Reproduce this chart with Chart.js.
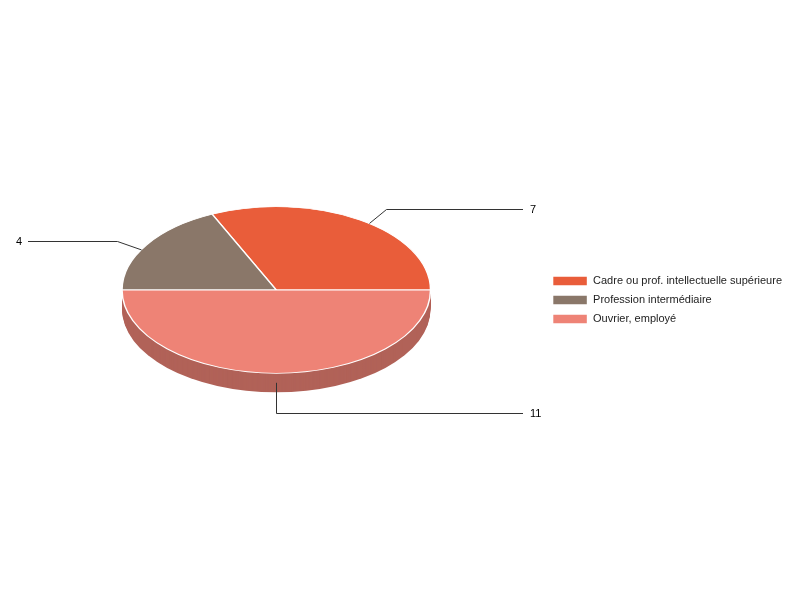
<!DOCTYPE html>
<html>
<head>
<meta charset="utf-8">
<script src="https://cdn.jsdelivr.net/npm/chart.js@4"></script>
<style>
  html, body { margin: 0; padding: 0; background: #fff; }
  #wrap { width: 800px; height: 600px; }
</style>
</head>
<body>
<div id="wrap"><canvas id="myChart" width="800" height="600"></canvas></div>
<script>
// data
var categories = ['Cadre ou prof. intellectuelle supérieure', 'Profession intermédiaire', 'Ouvrier, employé'];
var counts = [7, 4, 11];

var sliceColors = ['#e95d3a', '#8a7769', '#ee8376'];

// look of the fake 3d pie
var TILT = 0.54;     // ellipse height / width
var DEPTH = 19;      // thickness of the side wall
var LIFT = 10;       // pie sits a bit higher than the legend centre
var SPREAD = 1.17;   // label directions lean away from the vertical a little
var LINE_RIGHT = 523;
var LINE_LEFT = 28;

function darken(hex, f) {
  var n = parseInt(hex.slice(1), 16);
  var r = Math.round(((n >> 16) & 255) * f);
  var g = Math.round(((n >> 8) & 255) * f);
  var b = Math.round((n & 255) * f);
  return 'rgb(' + r + ',' + g + ',' + b + ')';
}

function tilt(ctx, cx, cy, dy) {
  ctx.translate(cx, cy - LIFT + dy);
  ctx.scale(1, -TILT);
  ctx.translate(-cx, -cy);
}

var pie3d = {
  id: 'pie3d',
  beforeDatasetsDraw: function(chart) {
    var ctx = chart.ctx;
    var all = chart.getDatasetMeta(0).data;
    var arcs = all.slice();
    // back slices first, then those that reach the front
    arcs.sort(function(a, b) {
      return (a.endAngle > Math.PI ? 1 : 0) - (b.endAngle > Math.PI ? 1 : 0);
    });
    arcs.forEach(function(arc) {
      var i = all.indexOf(arc);
      var side = new Chart.ArcElement({
        x: arc.x, y: arc.y,
        startAngle: arc.startAngle, endAngle: arc.endAngle,
        innerRadius: arc.innerRadius, outerRadius: arc.outerRadius,
        circumference: arc.circumference,
        options: Object.assign({}, arc.options, { backgroundColor: darken(sliceColors[i], 0.745), borderWidth: 0 })
      });
      for (var d = DEPTH; d >= 1; d--) {
        ctx.save();
        tilt(ctx, arc.x, arc.y, d);
        side.draw(ctx);
        ctx.restore();
      }
    });
    ctx.save();
    tilt(ctx, all[0].x, all[0].y, 0);
  },
  afterDatasetsDraw: function(chart) {
    var ctx = chart.ctx;
    ctx.restore();

    // leader lines and values
    var meta = chart.getDatasetMeta(0);
    ctx.save();
    ctx.strokeStyle = '#333';
    ctx.lineWidth = 1;
    ctx.fillStyle = '#000';
    ctx.font = '11px "Liberation Sans", Arial, sans-serif';
    ctx.textBaseline = 'middle';
    meta.data.forEach(function(arc, i) {
      var mid = (arc.startAngle + arc.endAngle) / 2;
      var m = Math.atan2(Math.sin(mid), Math.cos(mid) * SPREAD);
      var rx = arc.outerRadius, ry = arc.outerRadius * TILT;
      var cx = arc.x, cy = arc.y - LIFT;
      var c = Math.cos(m), s = Math.sin(m);
      var front = s < 0 ? DEPTH : 0;
      var x0 = cx + rx * c, y0 = cy - ry * s + front / 2;
      var x1 = cx + rx * 1.18 * c, y1 = cy - ry * (s < 0 ? 1.25 : 1.22) * s + front;
      var right = c >= -0.01;
      var x2 = right ? LINE_RIGHT : LINE_LEFT;
      var yl = Math.round(y1) + 0.5;
      ctx.beginPath();
      ctx.moveTo(Math.round(x0) + 0.5, y0);
      ctx.lineTo(Math.round(x1) + 0.5, yl);
      ctx.lineTo(x2, yl);
      ctx.stroke();
      ctx.textAlign = right ? 'left' : 'right';
      ctx.fillText(String(counts[i]), right ? x2 + 7 : x2 - 6, yl);
    });
    ctx.restore();
  }
};

Chart.defaults.font.family = '"Liberation Sans", Arial, sans-serif';
Chart.defaults.font.size = 11;

new Chart(document.getElementById('myChart'), {
  type: 'pie',
  data: {
    labels: categories,
    datasets: [{
      data: counts,
      backgroundColor: sliceColors,
      borderColor: '#ffffff',
      borderWidth: 1.5,
      clip: false
    }]
  },
  options: {
    responsive: false,
    animation: false,
    rotation: 90,
    layout: { padding: { left: 8, right: 8, top: 145, bottom: 145 } },
    plugins: {
      tooltip: { enabled: false },
      legend: {
        position: 'right',
        labels: {
          boxWidth: 35,
          boxHeight: 10,
          padding: 8,
          color: '#222',
          font: { size: 11 }
        }
      }
    }
  },
  plugins: [pie3d]
});
</script>
</body>
</html>
